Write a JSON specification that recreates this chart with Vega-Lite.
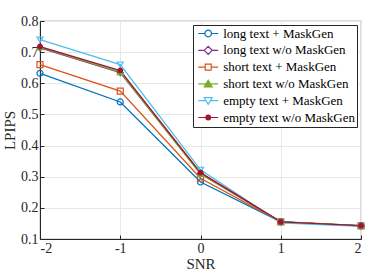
{
  "$schema": "https://vega.github.io/schema/vega-lite/v6.json",
  "width": 321,
  "height": 218,
  "autosize": "none",
  "padding": {"left": 40, "top": 21, "right": 22, "bottom": 37},
  "background": "white",
  "config": {
    "font": "Liberation Serif",
    "view": {"stroke": "#262626", "strokeWidth": 0.8},
    "axis": {"labelFont": "Liberation Serif", "titleFont": "Liberation Serif", "labelFontSize": 14, "titleFontSize": 15, "titleFontWeight": "normal", "labelColor": "#262626", "titleColor": "#262626", "gridColor": "#e8e8e8", "domainColor": "#262626", "tickColor": "#262626", "tickSize": -4, "labelPadding": 6}
  },
  "data": {"values": [
    {"series": "long text + MaskGen", "snr": -2, "lpips": 0.632},
    {"series": "long text + MaskGen", "snr": -1, "lpips": 0.540},
    {"series": "long text + MaskGen", "snr": 0, "lpips": 0.283},
    {"series": "long text + MaskGen", "snr": 1, "lpips": 0.155},
    {"series": "long text + MaskGen", "snr": 2, "lpips": 0.142},
    {"series": "long text w/o MaskGen", "snr": -2, "lpips": 0.714},
    {"series": "long text w/o MaskGen", "snr": -1, "lpips": 0.634},
    {"series": "long text w/o MaskGen", "snr": 0, "lpips": 0.310},
    {"series": "long text w/o MaskGen", "snr": 1, "lpips": 0.155},
    {"series": "long text w/o MaskGen", "snr": 2, "lpips": 0.142},
    {"series": "short text + MaskGen", "snr": -2, "lpips": 0.660},
    {"series": "short text + MaskGen", "snr": -1, "lpips": 0.575},
    {"series": "short text + MaskGen", "snr": 0, "lpips": 0.295},
    {"series": "short text + MaskGen", "snr": 1, "lpips": 0.155},
    {"series": "short text + MaskGen", "snr": 2, "lpips": 0.142},
    {"series": "short text w/o MaskGen", "snr": -2, "lpips": 0.716},
    {"series": "short text w/o MaskGen", "snr": -1, "lpips": 0.636},
    {"series": "short text w/o MaskGen", "snr": 0, "lpips": 0.309},
    {"series": "short text w/o MaskGen", "snr": 1, "lpips": 0.156},
    {"series": "short text w/o MaskGen", "snr": 2, "lpips": 0.143},
    {"series": "empty text + MaskGen", "snr": -2, "lpips": 0.740},
    {"series": "empty text + MaskGen", "snr": -1, "lpips": 0.660},
    {"series": "empty text + MaskGen", "snr": 0, "lpips": 0.322},
    {"series": "empty text + MaskGen", "snr": 1, "lpips": 0.152},
    {"series": "empty text + MaskGen", "snr": 2, "lpips": 0.141},
    {"series": "empty text w/o MaskGen", "snr": -2, "lpips": 0.718},
    {"series": "empty text w/o MaskGen", "snr": -1, "lpips": 0.641},
    {"series": "empty text w/o MaskGen", "snr": 0, "lpips": 0.313},
    {"series": "empty text w/o MaskGen", "snr": 1, "lpips": 0.155},
    {"series": "empty text w/o MaskGen", "snr": 2, "lpips": 0.143}
  ]},
  "encoding": {
    "x": {"field": "snr", "type": "quantitative", "title": "SNR", "scale": {"domain": [-2, 2], "nice": false}, "axis": {"values": [-2, -1, 0, 1, 2], "labelExpr": "'' + datum.value", "titlePadding": 1}},
    "y": {"field": "lpips", "type": "quantitative", "title": "LPIPS", "scale": {"domain": [0.1, 0.8], "nice": false, "zero": false}, "axis": {"values": [0.1, 0.2, 0.3, 0.4, 0.5, 0.6, 0.7, 0.8], "format": ".1f", "titlePadding": 3}},
    "color": {"field": "series", "type": "nominal", "title": null,
      "scale": {"domain": ["long text + MaskGen", "long text w/o MaskGen", "short text + MaskGen", "short text w/o MaskGen", "empty text + MaskGen", "empty text w/o MaskGen"],
                "range": ["#0072BD", "#7E2F8E", "#D95319", "#77AC30", "#4DBEEE", "#A2142F"]},
      "legend": {"orient": "top-right", "offset": 4, "strokeColor": "#262626", "fillColor": "white", "padding": 2, "labelFont": "Liberation Serif", "labelFontSize": 13, "labelColor": "#000000", "symbolSize": 44, "symbolStrokeWidth": 1.2, "rowPadding": 2.8, "labelOffset": 8.5, "symbolOffset": 6.7,
           "encode": {"symbols": {"update": {
             "shape": {"signal": "datum.value == 'long text + MaskGen' ? 'M-3,0H-1M1,0H3M-1,0A1,1 0 1,0 1,0A1,1 0 1,0 -1,0' : datum.value == 'long text w/o MaskGen' ? 'M-3,0H-1.2M1.2,0H3M-1.2,0L0,-1.2L1.2,0L0,1.2Z' : datum.value == 'short text + MaskGen' ? 'M-3,0H-0.9M0.9,0H3M-0.9,-0.9H0.9V0.9H-0.9Z' : datum.value == 'short text w/o MaskGen' ? 'M-3,0H3M0,-1.1L1.2,0.9H-1.2Z' : datum.value == 'empty text + MaskGen' ? 'M-3,0H-0.66M0.66,0H3M0,1.1L1.2,-0.9H-1.2Z' : 'M-3,0H3M-0.7,0A0.7,0.7 0 1,0 0.7,0A0.7,0.7 0 1,0 -0.7,0'"},
             "fill": {"signal": "datum.value == 'empty text w/o MaskGen' ? '#A2142F' : datum.value == 'short text w/o MaskGen' ? '#77AC30' : 'transparent'"},
             "stroke": {"scale": "color", "field": "value"},
             "strokeWidth": {"value": 1.2},
             "opacity": {"value": 1}
           }}}}}
  },
  "layer": [
    {"mark": {"type": "line", "strokeWidth": 1.3}},
    {"mark": {"type": "point", "filled": false, "size": 36, "strokeWidth": 1.2, "opacity": 1},
     "encoding": {
       "shape": {"condition": [
         {"test": "datum.series == 'long text w/o MaskGen'", "value": "diamond"},
         {"test": "datum.series == 'short text + MaskGen'", "value": "square"},
         {"test": "datum.series == 'short text w/o MaskGen'", "value": "triangle-up"},
         {"test": "datum.series == 'empty text + MaskGen'", "value": "triangle-down"}
       ], "value": "circle"},
       "size": {"condition": {"test": "datum.series == 'empty text w/o MaskGen'", "value": 22}, "value": 36},
       "fill": {"condition": [
         {"test": "datum.series == 'empty text w/o MaskGen'", "value": "#A2142F"},
         {"test": "datum.series == 'short text w/o MaskGen'", "value": "#77AC30"}
       ], "value": "transparent"}
     }}
  ]
}
